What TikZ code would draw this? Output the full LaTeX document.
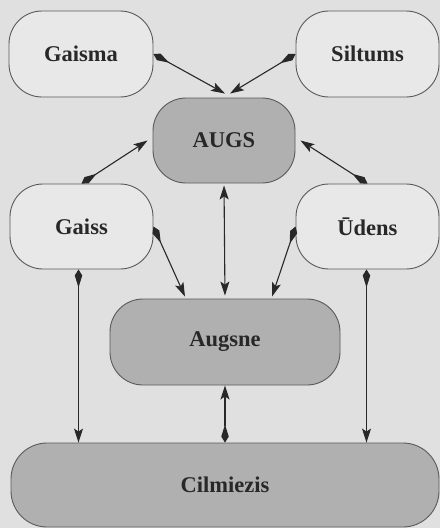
\documentclass[tikz,border=0pt]{standalone}
\usepackage{fontspec}
\setmainfont{Liberation Serif}
\usetikzlibrary{arrows.meta,calc}
\definecolor{pagebg}{RGB}{224,224,224}
\definecolor{lightbox}{RGB}{232,232,232}
\definecolor{darkbox}{RGB}{176,176,176}
\definecolor{edgecol}{RGB}{90,90,90}
\definecolor{inkcol}{RGB}{40,40,40}
\begin{document}
\begin{tikzpicture}[x=1pt,y=-1pt,
  boxbase/.style={draw=edgecol,line width=0.9pt,rounded corners=33pt,
    text=inkcol,font=\fontsize{22.5}{26}\selectfont\bfseries,inner sep=0pt},
  litebox/.style={boxbase,fill=lightbox},
  shadebox/.style={boxbase,fill=darkbox},
  conn/.style={draw=inkcol,line width=1.1pt,
    -{Stealth[length=14pt,width=9pt,inset=3pt]}},
  tailconn/.style={conn,{Kite[length=18pt,width=7.5pt,inset=12pt]}-{Stealth[length=14pt,width=9pt,inset=3pt]}},
  twoway/.style={conn,{Stealth[length=14pt,width=9pt,inset=3pt]}-{Stealth[length=14pt,width=9pt,inset=3pt]}}
]
\fill[pagebg] (0,0) rectangle (440,528);
\useasboundingbox (0,0) rectangle (440,528);

\node[litebox,minimum width=144pt,minimum height=86pt] (gaisma) at (81,54) {Gaisma};
\node[litebox,minimum width=143pt,minimum height=86pt] (siltums) at (367.5,54) {Siltums};
\node[shadebox,minimum width=142pt,minimum height=85pt] (augs) at (224,140.5) {AUGS};
\node[litebox,minimum width=143pt,minimum height=85pt] (gaiss) at (81.5,226.5) {Gaiss};
\node[litebox,minimum width=143pt,minimum height=85pt] (udens) at (367.5,226.5) {Ūdens};
\node[shadebox,minimum width=230pt,minimum height=86pt] (augsne) at (225,342) {Augsne};
\node[shadebox,minimum width=428pt,minimum height=84pt,rounded corners=36pt] (cilm) at (225,485) {Cilmiezis};

\coordinate (augsTopL) at ([xshift=1pt,yshift=4pt]augs.north);
\coordinate (augsTopR) at ([xshift=6pt,yshift=4pt]augs.north);
\coordinate (augsLeft) at ([xshift=-5pt]augs.west);
\coordinate (augsRight) at ([xshift=5pt]augs.east);
\coordinate (augsneL) at ([xshift=-40pt,yshift=2pt]augsne.north);
\coordinate (augsneR) at ([xshift=47pt,yshift=2pt]augsne.north);

\draw[tailconn] (gaisma.east) -- (augsTopL);
\draw[tailconn] (siltums.west) -- (augsTopR);
\draw[tailconn] (gaiss.north) -- (augsLeft);
\draw[tailconn] (udens.north) -- (augsRight);
\draw[twoway,shorten <=2pt,shorten >=3pt] (augs.south) -- (augsne.north);
\draw[tailconn] (gaiss.east) -- (augsneL);
\draw[tailconn] (udens.west) -- (augsneR);
\draw[tailconn] ([xshift=-3pt]gaiss.south) -- ([xshift=-3pt]gaiss.south |- cilm.north);
\draw[tailconn] ([xshift=-1pt]udens.south) -- ([xshift=-1pt]udens.south |- cilm.north);
\draw[tailconn] (cilm.north) -- (augsne.south);
\end{tikzpicture}
\end{document}
